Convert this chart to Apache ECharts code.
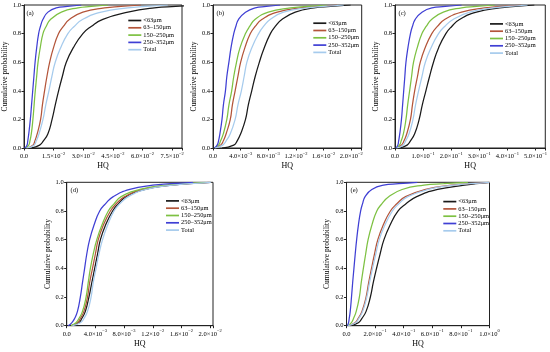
<!DOCTYPE html>
<html><head><meta charset="utf-8">
<script src="https://cdn.jsdelivr.net/npm/echarts@6/dist/echarts.min.js"></script>
<style>html,body{margin:0;padding:0;background:#fff}#c{width:550px;height:352px}</style>
</head><body><div id="c"></div>
<script>
// ---- data (HQ value at each cumulative probability) ----
const probLevels = [0, 0.02, 0.05, 0.1, 0.2, 0.3, 0.4, 0.5, 0.6, 0.7, 0.8, 0.85, 0.9, 0.95, 0.98, 0.99, 1.0];
const sizeClasses = ['<63μm', '63–150μm', '150–250μm', '250–352μm', 'Total'];
const panelLabels = ['(a)', '(b)', '(c)', '(d)', '(e)'];

// (a)
const hqA1 = [0.0037, 0.0079, 0.0098, 0.0121, 0.0142, 0.0158, 0.0175, 0.0194, 0.0214, 0.0249, 0.0298, 0.0340, 0.0399, 0.0526, 0.0660, 0.0768, 0.0900];
const hqA2 = [0.0012, 0.0045, 0.0055, 0.0067, 0.0084, 0.0093, 0.0104, 0.0116, 0.0130, 0.0149, 0.0175, 0.0199, 0.0231, 0.0298, 0.0408, 0.0491, 0.0593];
const hqA3 = [0.0007, 0.0024, 0.0030, 0.0037, 0.0045, 0.0051, 0.0057, 0.0064, 0.0071, 0.0082, 0.0096, 0.0112, 0.0135, 0.0189, 0.0273, 0.0341, 0.0425];
const hqA4 = [0.0003, 0.0015, 0.0019, 0.0024, 0.0032, 0.0038, 0.0044, 0.0050, 0.0056, 0.0064, 0.0074, 0.0083, 0.0096, 0.0121, 0.0163, 0.0220, 0.0290];
const hqA5 = [0.0012, 0.0051, 0.0062, 0.0076, 0.0096, 0.0110, 0.0126, 0.0141, 0.0158, 0.0185, 0.0222, 0.0254, 0.0298, 0.0391, 0.0526, 0.0617, 0.0728];
const xTicksA = ['0.0', '1.5×10^−2', '3.0×10^−2', '4.5×10^−2', '6.0×10^−2', '7.5×10^−2'];

// (b)
const hqB1 = [0.0013, 0.0030, 0.0035, 0.0040, 0.0047, 0.0051, 0.0056, 0.0061, 0.0067, 0.0074, 0.0083, 0.0090, 0.0100, 0.0119, 0.0146, 0.0170, 0.0199];
const hqB2 = [0.0003, 0.0011, 0.0015, 0.0019, 0.0025, 0.0028, 0.0032, 0.0036, 0.0040, 0.0046, 0.0054, 0.0061, 0.0071, 0.0093, 0.0126, 0.0150, 0.0179];
const hqB3 = [0.0002, 0.0008, 0.0011, 0.0015, 0.0020, 0.0023, 0.0027, 0.0030, 0.0034, 0.0039, 0.0047, 0.0053, 0.0061, 0.0080, 0.0112, 0.0136, 0.0165];
const hqB4 = [0.0002, 0.0006, 0.0008, 0.0010, 0.0013, 0.0015, 0.0018, 0.0020, 0.0023, 0.0026, 0.0030, 0.0033, 0.0037, 0.0047, 0.0061, 0.0077, 0.0097];
const hqB5 = [0.0003, 0.0014, 0.0019, 0.0025, 0.0032, 0.0036, 0.0041, 0.0045, 0.0049, 0.0056, 0.0066, 0.0073, 0.0083, 0.0102, 0.0136, 0.0160, 0.0189];
const xTicksB = ['0.0', '4.0×10^−3', '8.0×10^−3', '1.2×10^−2', '1.6×10^−2', '2.0×10^−2'];

// (c)
const hqC1 = [0.017, 0.043, 0.055, 0.070, 0.086, 0.097, 0.110, 0.123, 0.137, 0.155, 0.181, 0.202, 0.231, 0.290, 0.372, 0.428, 0.496];
const hqC2 = [0.005, 0.023, 0.032, 0.042, 0.055, 0.062, 0.070, 0.080, 0.090, 0.107, 0.131, 0.151, 0.178, 0.237, 0.319, 0.378, 0.449];
const hqC3 = [0.004, 0.016, 0.022, 0.030, 0.039, 0.045, 0.052, 0.059, 0.066, 0.079, 0.096, 0.111, 0.131, 0.172, 0.237, 0.290, 0.355];
const hqC4 = [0.003, 0.010, 0.013, 0.017, 0.023, 0.027, 0.031, 0.035, 0.039, 0.046, 0.055, 0.062, 0.072, 0.096, 0.131, 0.179, 0.237];
const hqC5 = [0.006, 0.029, 0.038, 0.050, 0.064, 0.073, 0.084, 0.096, 0.108, 0.128, 0.155, 0.177, 0.208, 0.266, 0.349, 0.404, 0.472];
const xTicksC = ['0.0', '1.0×10^−1', '2.0×10^−1', '3.0×10^−1', '4.0×10^−1', '5.0×10^−1'];

// (d)
const hqD1 = [0.0007, 0.0017, 0.0021, 0.0026, 0.0031, 0.0035, 0.0039, 0.0043, 0.0047, 0.0054, 0.0064, 0.0072, 0.0083, 0.0109, 0.0146, 0.0171, 0.0201];
const hqD2 = [0.0006, 0.0015, 0.0019, 0.0024, 0.0029, 0.0032, 0.0036, 0.0040, 0.0044, 0.0051, 0.0061, 0.0069, 0.0081, 0.0106, 0.0144, 0.0169, 0.0199];
const hqD3 = [0.0006, 0.0013, 0.0017, 0.0022, 0.0027, 0.0030, 0.0033, 0.0037, 0.0042, 0.0049, 0.0058, 0.0066, 0.0076, 0.0102, 0.0139, 0.0164, 0.0194];
const hqD4 = [0.0002, 0.0007, 0.0011, 0.0015, 0.0019, 0.0022, 0.0025, 0.0028, 0.0032, 0.0038, 0.0046, 0.0054, 0.0065, 0.0088, 0.0120, 0.0145, 0.0176];
const hqD5 = [0.0008, 0.0019, 0.0024, 0.0029, 0.0034, 0.0037, 0.0041, 0.0045, 0.0050, 0.0057, 0.0066, 0.0074, 0.0086, 0.0111, 0.0148, 0.0172, 0.0201];
const xTicksD = ['0.0', '4.0×10^−3', '8.0×10^−3', '1.2×10^−2', '1.6×10^−2', '2.0×10^−2'];

// (e)
const hqE1 = [0.024, 0.083, 0.107, 0.137, 0.167, 0.187, 0.210, 0.235, 0.262, 0.304, 0.361, 0.416, 0.491, 0.637, 0.825, 0.904, 1.0];
const hqE2 = [0.012, 0.059, 0.081, 0.108, 0.137, 0.155, 0.175, 0.196, 0.219, 0.256, 0.307, 0.352, 0.413, 0.554, 0.731, 0.852, 1.0];
const hqE3 = [0.007, 0.033, 0.049, 0.068, 0.090, 0.103, 0.118, 0.134, 0.151, 0.177, 0.212, 0.247, 0.295, 0.389, 0.542, 0.680, 0.849];
const hqE4 = [0.005, 0.014, 0.019, 0.026, 0.035, 0.043, 0.052, 0.061, 0.071, 0.083, 0.099, 0.112, 0.130, 0.177, 0.259, 0.365, 0.495];
const hqE5 = [0.012, 0.064, 0.086, 0.113, 0.142, 0.161, 0.182, 0.205, 0.229, 0.268, 0.321, 0.366, 0.429, 0.571, 0.750, 0.863, 1.0];
const xTicksE = ['0.0', '2.0×10^−1', '4.0×10^−1', '6.0×10^−1', '8.0×10^−1', '1.0×10^0'];

const yTicks = ['0.0', '0.2', '0.4', '0.6', '0.8', '1.0'];

// ---- layout / style ----
const FONT = '"Liberation Serif", "Times New Roman", serif';
const colors = ['#1a1a1a', '#b3553a', '#7dc142', '#3f3fd4', '#a6cbed'];

const panels = [
  { curves: [hqA1, hqA2, hqA3, hqA4, hqA5], ticks: xTicksA, step: 0.015, max: 0.08,
    grid: { left: 22.7, top: 5, width: 159.3, height: 143 }, legend: { left: 128.3, top: 17.3 },
    yGap: 12, xGap: 13.5, lab: [26.5, 9.5] },
  { curves: [hqB1, hqB2, hqB3, hqB4, hqB5], ticks: xTicksB, step: 0.004, max: 0.0215,
    grid: { left: 213, top: 5, width: 148.7, height: 143 }, legend: { left: 313.3, top: 20 },
    yGap: 14, xGap: 13.5, lab: [216.5, 9.5] },
  { curves: [hqC1, hqC2, hqC3, hqC4, hqC5], ticks: xTicksC, step: 0.1, max: 0.535,
    grid: { left: 395, top: 5, width: 151.5, height: 143 }, legend: { left: 490, top: 20.7 },
    yGap: 13, xGap: 13.5, lab: [398.5, 9.5] },
  { curves: [hqD1, hqD2, hqD3, hqD4, hqD5], ticks: xTicksD, step: 0.004, max: 0.0204,
    grid: { left: 66.7, top: 182.3, width: 146.3, height: 143.4 }, legend: { left: 166, top: 197.7 },
    yGap: 11, xGap: 14.3, lab: [70.5, 186.5] },
  { curves: [hqE1, hqE2, hqE3, hqE4, hqE5], ticks: xTicksE, step: 0.2, max: 1.0,
    grid: { left: 346.5, top: 182.3, width: 143, height: 143.4 }, legend: { left: 443.3, top: 198.4 },
    yGap: 11, xGap: 14.3, lab: [350.5, 186.5] }
];

function tickFormatter(ticks, step) {
  return function (v) {
    const i = Math.round(v / step);
    if (Math.abs(v - i * step) > step * 1e-6 || i < 0 || i >= ticks.length) return '';
    const parts = ticks[i].split('^');
    return parts.length > 1 ? '{n|' + parts[0] + '}{s|' + parts[1] + '}' : '{n|' + parts[0] + '}';
  };
}

const grids = [], xAxes = [], yAxes = [], series = [], legends = [], graphics = [];
panels.forEach(function (p, pi) {
  grids.push(Object.assign({ show: true, borderColor: '#222', borderWidth: 1 }, p.grid));
  xAxes.push({
    type: 'value', gridIndex: pi, min: 0, max: p.max, interval: p.step,
    name: 'HQ', nameLocation: 'middle', nameGap: p.xGap,
    nameTextStyle: { fontFamily: FONT, fontSize: 8, color: '#000' },
    axisLine: { show: true, onZero: false, lineStyle: { color: '#222', width: 1 } },
    axisTick: { show: true, length: 2.5, lineStyle: { color: '#222' } },
    splitLine: { show: false },
    axisLabel: {
      margin: 3, color: '#000', fontFamily: FONT, formatter: tickFormatter(p.ticks, p.step),
      rich: {
        n: { fontFamily: FONT, fontSize: 6.5, color: '#000', lineHeight: 9, verticalAlign: 'bottom' },
        s: { fontFamily: FONT, fontSize: 4.5, color: '#000', verticalAlign: 'top', lineHeight: 5 }
      }
    }
  });
  yAxes.push({
    type: 'value', gridIndex: pi, min: 0, max: 1, interval: 0.2,
    name: 'Cumulative probability', nameLocation: 'middle', nameGap: p.yGap, nameRotate: 90,
    nameTextStyle: { fontFamily: FONT, fontSize: 7.5, color: '#000' },
    axisLine: { show: true, onZero: false, lineStyle: { color: '#222', width: 1 } },
    axisTick: { show: true, length: 2.5, lineStyle: { color: '#222' } },
    splitLine: { show: false },
    axisLabel: {
      margin: 3, color: '#000', fontFamily: FONT, fontSize: 6.5,
      formatter: function (v) { const i = Math.round(v / 0.2); return yTicks[i] || ''; }
    }
  });
  p.curves.forEach(function (c, k) {
    series.push({
      type: 'line', name: sizeClasses[k], xAxisIndex: pi, yAxisIndex: pi,
      data: c.map(function (x, i) { return [x, probLevels[i]]; }),
      symbol: 'none', showSymbol: false, smooth: 0.5, clip: true,
      lineStyle: { width: 1.25, color: colors[k] }, itemStyle: { color: colors[k] },
      emphasis: { disabled: true }, animation: false
    });
  });
  legends.push({
    data: sizeClasses.map(function (n, k) { return { name: n, itemStyle: { color: colors[k] } }; }),
    orient: 'vertical', left: p.legend.left, top: p.legend.top,
    icon: 'rect', itemWidth: 13, itemHeight: 1.7, itemGap: 0.9, padding: 0,
    textStyle: { fontFamily: FONT, fontSize: 6.4, lineHeight: 6.4, color: '#000', padding: [0, 0, 0, -3] },
    selectedMode: false
  });
  graphics.push({
    type: 'text', left: p.lab[0], top: p.lab[1],
    style: { text: panelLabels[pi], font: '6.5px ' + FONT, fill: '#000' }
  });
});

const chart = echarts.init(document.getElementById('c'), null, { renderer: 'canvas' });
chart.setOption({
  animation: false,
  backgroundColor: '#fff',
  grid: grids, xAxis: xAxes, yAxis: yAxes, series: series, legend: legends,
  graphic: graphics
});
</script></body></html>
